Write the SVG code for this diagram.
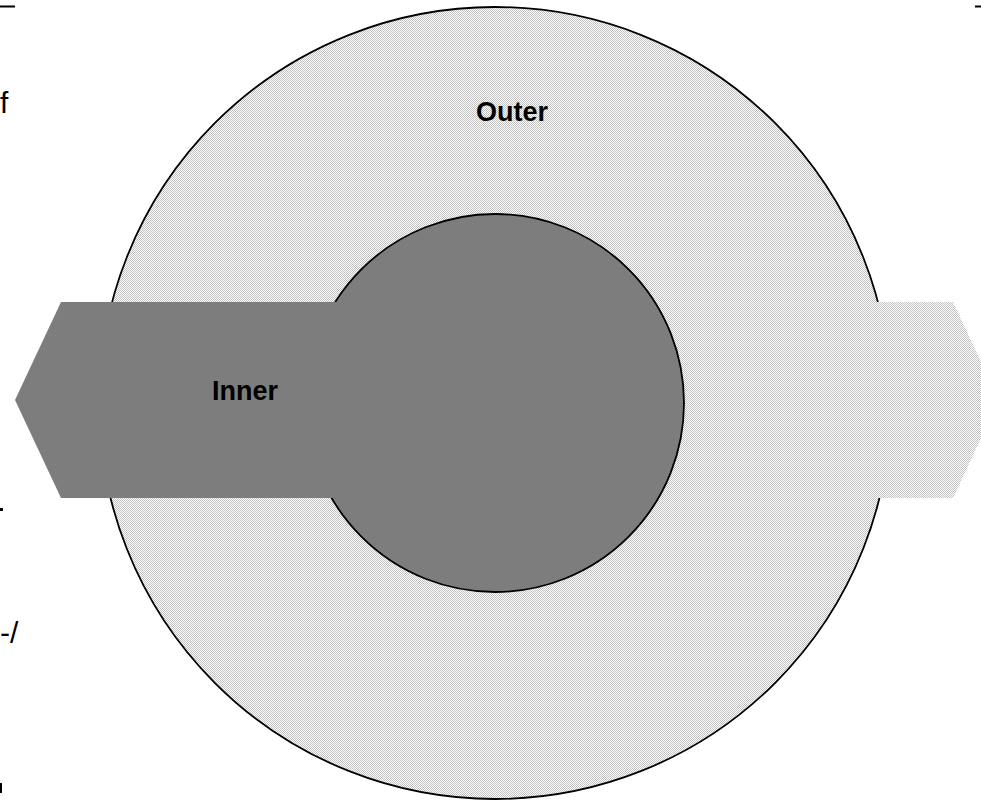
<svg xmlns="http://www.w3.org/2000/svg" width="981" height="800" viewBox="0 0 981 800">
  <defs>
    <pattern id="lightDots" width="2" height="2" patternUnits="userSpaceOnUse">
      <rect width="2" height="2" fill="#ffffff"/>
      <rect x="0" y="0" width="1" height="1" fill="#c0c0c0"/>
      <rect x="1" y="1" width="1" height="1" fill="#c0c0c0"/>
    </pattern>
    <pattern id="darkDots" width="2" height="2" patternUnits="userSpaceOnUse">
      <rect width="2" height="2" fill="#808080"/>
      <rect x="0" y="0" width="1" height="1" fill="#7a7a7a"/>
      <rect x="1" y="1" width="1" height="1" fill="#7a7a7a"/>
    </pattern>
  </defs>
  <style>
    .outline { stroke: #000000; stroke-width: 1.8; }
    .light { fill: url(#lightDots); }
    .dark { fill: url(#darkDots); }
    .label { font-family: "Liberation Sans", Arial, sans-serif; font-weight: bold; font-size: 27px; fill: #000000; }
    .stray { font-family: "Liberation Sans", Arial, sans-serif; font-size: 30px; fill: #000000; }
  </style>
  <rect width="981" height="800" fill="#ffffff"/>

  <g id="stray-marks">
    <line x1="0" y1="6.5" x2="15" y2="6.5" stroke="#000" stroke-width="2"/>
    <line x1="975" y1="6.5" x2="981" y2="6.5" stroke="#000" stroke-width="2"/>
    <text class="stray" x="0" y="113">f</text>
    <rect x="0" y="508" width="3" height="3" fill="#000"/>
    <text class="stray" x="0" y="643">-/</text>
    <rect x="0" y="783" width="2" height="10" fill="#000"/>
  </g>

  <g id="outer">
    <circle class="light outline" cx="495" cy="403" r="396"/>
    <polygon class="light" points="740,302 953,302 999,400 953,498 740,498 720,400"/>
    <text class="label" x="512" y="121" text-anchor="middle">Outer</text>
  </g>

  <g id="inner">
    <circle class="dark outline" cx="495" cy="403" r="189"/>
    <polygon class="dark" points="61,302 420,302 466,400 420,498 61,498 15,400"/>
    <text class="label" x="245" y="400" text-anchor="middle">Inner</text>
  </g>

  <g id="connectors"/>
</svg>
